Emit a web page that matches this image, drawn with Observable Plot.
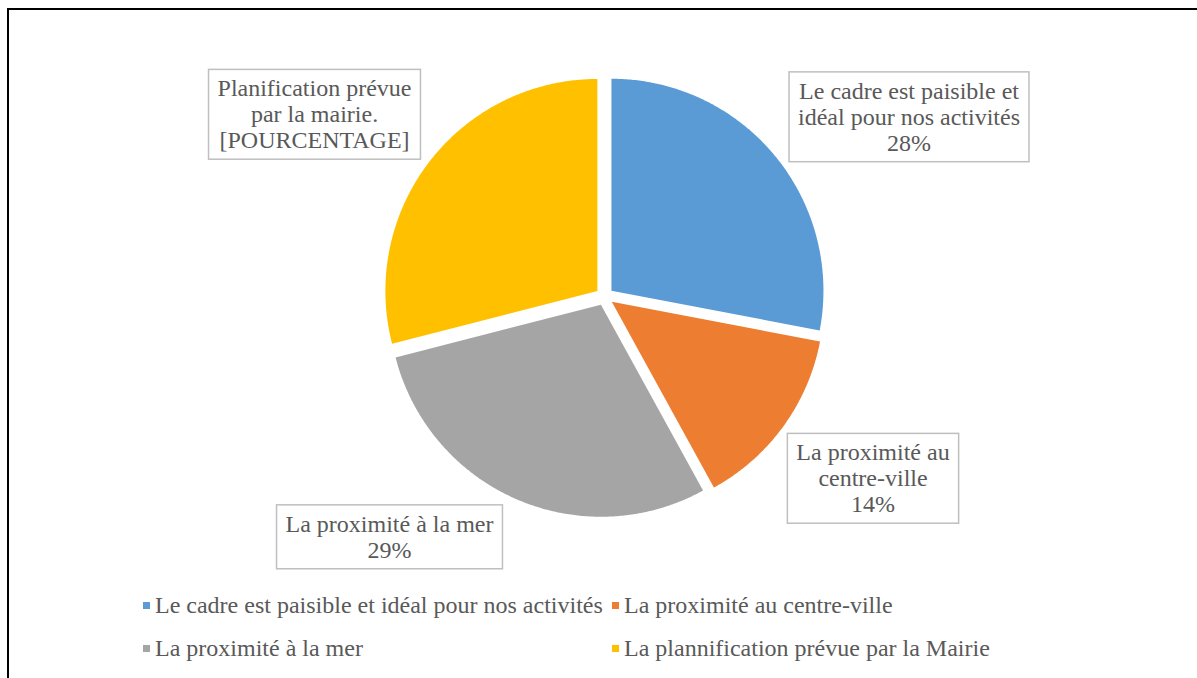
<!DOCTYPE html>
<html><head><meta charset="utf-8">
<script src="https://cdn.jsdelivr.net/npm/d3@7"></script>
<script src="https://cdn.jsdelivr.net/npm/@observablehq/plot@0.6"></script>
<style>
html,body{margin:0;padding:0;background:#fff;overflow:hidden;width:1197px;height:678px;}
#frame{position:absolute;left:7px;top:8px;width:1400px;height:900px;border:2px solid #000;pointer-events:none;z-index:10;}
#chart{position:absolute;left:0;top:0;}
#legend{position:absolute;left:143px;top:584px;}
#chart svg text{font-family:"Liberation Serif","Times New Roman",serif !important;}
#legend, #legend *{font-family:"Liberation Serif","Times New Roman",serif !important;}
</style></head><body>
<div id="chart"></div><div id="legend"></div><div id="frame"></div>
<script>
// ---- data ----
const categories = [
  "Le cadre est paisible et idéal pour nos activités",
  "La proximité au centre-ville",
  "La proximité à la mer",
  "La plannification prévue par la Mairie"
];
const values = [28, 14, 29, 29];
const labelNames = [
  "Le cadre est paisible et\nidéal pour nos activités",
  "La proximité au\ncentre-ville",
  "La proximité à la mer",
  "Planification prévue\npar la mairie."
];
const labelValues = ["28%", "14%", "29%", "[POURCENTAGE]"];
const colors = ["#5B9BD5", "#ED7D31", "#A5A5A5", "#FFC000"];

// ---- layout ----
const W = 1197, H = 580, CX = 604, CY = 296, R = 212, EXPLODE = 9;
const labelPos = [[304.5, 180], [268.5, -181.5], [-215, -240], [-290, 182.5]];
const FONT = '"Liberation Serif", serif';
const FS = 24;

// slice geometry from d3.pie
const arcs = d3.pie().sort(null).value(d => d)(values);
const slicePts = [];
arcs.forEach((a, i) => {
  const mid = (a.startAngle + a.endAngle) / 2;
  const ox = EXPLODE * Math.sin(mid), oy = EXPLODE * Math.cos(mid);
  slicePts.push({cat: categories[i], x: ox, y: oy});
  const n = Math.ceil((a.endAngle - a.startAngle) / (Math.PI / 360));
  for (let k = 0; k <= n; k++) {
    const t = a.startAngle + (a.endAngle - a.startAngle) * k / n;
    slicePts.push({cat: categories[i], x: ox + R * Math.sin(t), y: oy + R * Math.cos(t)});
  }
});
const labels = labelPos.map((p, i) => ({x: p[0], y: p[1], text: labelNames[i] + "\n" + labelValues[i]}));

const plot = Plot.plot({
  width: W, height: H, margin: 0,
  x: {domain: [-CX, W - CX], axis: null},
  y: {domain: [-(H - CY), CY], axis: null},
  color: {domain: categories, range: colors},
  style: {background: "transparent"},
  marks: [
    Plot.line(slicePts, {x: "x", y: "y", z: "cat", fill: "cat", stroke: "none", curve: "linear"}),
    Plot.text(labels, {x: "x", y: "y", text: "text", fill: "#595959", fontFamily: FONT, fontSize: FS, lineHeight: 1.08})
  ]
});
document.getElementById("chart").appendChild(plot);

// label boxes
const g = plot.querySelector('g[aria-label="text"]');
if (g) {
  const sr = plot.getBoundingClientRect();
  g.querySelectorAll("text").forEach(t => {
    const b = t.getBoundingClientRect();
    const r = document.createElementNS("http://www.w3.org/2000/svg", "rect");
    r.setAttribute("x", b.left - sr.left - 9);
    r.setAttribute("y", b.top - sr.top - 6);
    r.setAttribute("width", b.width + 18);
    r.setAttribute("height", b.height + 12);
    r.setAttribute("fill", "#fff");
    r.setAttribute("stroke", "#BFBFBF");
    r.setAttribute("stroke-width", 1.5);
    plot.insertBefore(r, g);
  });
}

// legend
const leg = plot.legend("color", {swatchSize: 7});
leg.style.display = "grid";
leg.style.gridTemplateColumns = "469px 500px";
leg.style.gridAutoRows = "43px";
leg.style.alignItems = "center";
leg.style.fontSize = FS + "px";
leg.style.color = "#595959";
leg.style.margin = "0";
leg.style.minHeight = "0";
leg.querySelectorAll("span").forEach(s => { s.style.marginRight = "0"; s.style.whiteSpace = "nowrap"; });
leg.querySelectorAll("svg").forEach(s => { s.style.marginRight = "5px"; });
document.getElementById("legend").appendChild(leg);
</script>
</body></html>
